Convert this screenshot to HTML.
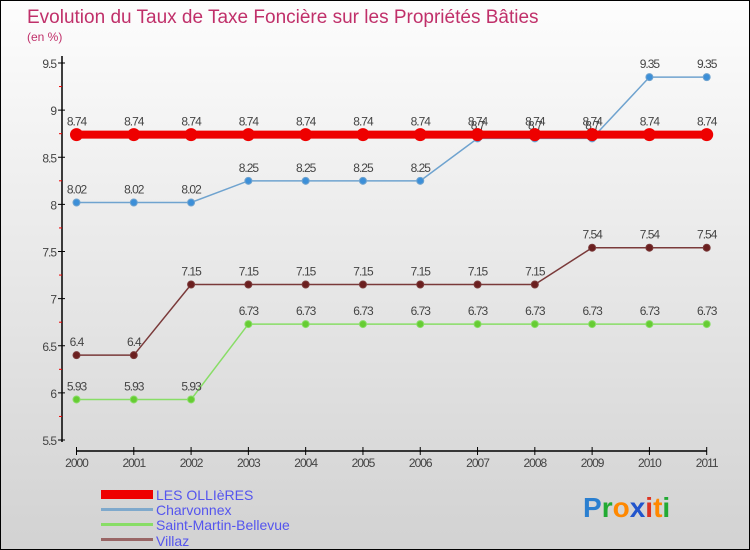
<!DOCTYPE html>
<html><head><meta charset="utf-8"><style>
body{margin:0}
#c{width:750px;height:550px;position:relative;font-family:"Liberation Sans",sans-serif;background:linear-gradient(#fdfdfd,#d2d2d2);border:1px solid #000;box-sizing:border-box;overflow:hidden}
</style></head><body>
<div id="c">
<svg id="s" width="750" height="550" style="position:absolute;left:0;top:0">
<text x="26" y="22" font-size="19" fill="#c0306a">Evolution du Taux de Taxe Foncière sur les Propriétés Bâties</text>
<text x="26" y="40" font-size="12" fill="#c0306a">(en %)</text>
<g id="axes"></g><g id="series"></g>
<g>
<rect x="100" y="489" width="52" height="9" fill="#ee0000"/>
<text x="155" y="499" font-size="14" fill="#5555ee">LES OLLIèRES</text>
<rect x="100" y="507" width="52" height="3" fill="#7fa9cc"/>
<text x="155" y="514" font-size="14" fill="#5555ee">Charvonnex</text>
<rect x="100" y="522" width="52" height="3" fill="#88dd66"/>
<text x="155" y="529" font-size="14" fill="#5555ee">Saint-Martin-Bellevue</text>
<rect x="100" y="537" width="52" height="3" fill="#996666"/>
<text x="155" y="545" font-size="14" fill="#5555ee">Villaz</text>
</g>
<g font-size="28" font-weight="bold">
<text x="582" y="516"><tspan fill="#2a7fd0">P</tspan><tspan fill="#22aa33">r</tspan><tspan fill="#ff8800">o</tspan><tspan fill="#2255cc">x</tspan><tspan fill="#dd3322">i</tspan><tspan fill="#ff8800">t</tspan><tspan fill="#22aa33">i</tspan></text>
</g>
</svg>
</div>
<script>
const years=[2000,2001,2002,2003,2004,2005,2006,2007,2008,2009,2010,2011];
const yTicks=[5.5,6,6.5,7,7.5,8,8.5,9,9.5];
const ollieres=[8.74,8.74,8.74,8.74,8.74,8.74,8.74,8.74,8.74,8.74,8.74,8.74];
const charvonnex=[8.02,8.02,8.02,8.25,8.25,8.25,8.25,8.7,8.7,8.7,9.35,9.35];
const saintMartin=[5.93,5.93,5.93,6.73,6.73,6.73,6.73,6.73,6.73,6.73,6.73,6.73];
const villaz=[6.4,6.4,7.15,7.15,7.15,7.15,7.15,7.15,7.15,7.54,7.54,7.54];
const NS="http://www.w3.org/2000/svg";
const X=i=>75.5+i*(705.7-75.5)/(years.length-1);
const Y=v=>439-(v-5.5)*(439-62)/4;
function mk(t,a,p){const e=document.createElementNS(NS,t);for(const k in a)e.setAttribute(k,a[k]);p.appendChild(e);return e;}
const ax=document.getElementById('axes');
let l=mk('line',{x1:61,y1:55,x2:61,y2:441,stroke:'#000','stroke-width':1.5},ax);


yTicks.forEach(v=>{
 mk('line',{x1:57,x2:64,y1:Y(v),y2:Y(v),stroke:'#000'},ax);
 if(v<9.5) mk('line',{x1:58,x2:61,y1:Y(v+0.25),y2:Y(v+0.25),stroke:'#e00'},ax);
 const t=mk('text',{x:55,y:Y(v)+5,'text-anchor':'end','font-size':12,fill:'#444','letter-spacing':'-1'},ax);
 t.textContent=String(v);
 
 
});
l=mk('line',{x1:75,y1:450,x2:706,y2:450,stroke:'#000','stroke-width':1.5},ax);


years.forEach((y,i)=>{
 mk('line',{x1:X(i),x2:X(i),y1:446,y2:454,stroke:'#000'},ax);
 const t=mk('text',{x:X(i),y:466,'text-anchor':'middle','font-size':12,fill:'#444','letter-spacing':'-1'},ax);
 t.textContent=y;
 
 
});
const sg=document.getElementById('series');
function series(name,vals,col,w,r,fill){
 const g=mk('g',{},sg);
 
 
 mk('polyline',{points:vals.map((v,i)=>X(i)+','+Y(v)).join(' '),fill:'none',stroke:col,'stroke-width':w},g);
 vals.forEach((v,i)=>{
  const c=mk('circle',{cx:X(i),cy:Y(v),r:r,fill:fill,stroke:col,'stroke-width':1},g);
  
  
  const t=mk('text',{x:X(i),y:Y(v)-9,'text-anchor':'middle','font-size':12,fill:'#444','letter-spacing':'-1'},g);
  t.textContent=String(v);
  
  
 });
}
series('charvonnex',charvonnex,'#6fa3cf',1.5,3.5,'#3c8fd8');
series('saint-martin-bellevue',saintMartin,'#88dd66',1.5,3.5,'#66cc33');
series('villaz',villaz,'#7a3a3a',1.5,3.5,'#6b1f1f');
series('les-ollieres',ollieres,'#ee0000',8,6,'#ee0000');
</script>
</body></html>
